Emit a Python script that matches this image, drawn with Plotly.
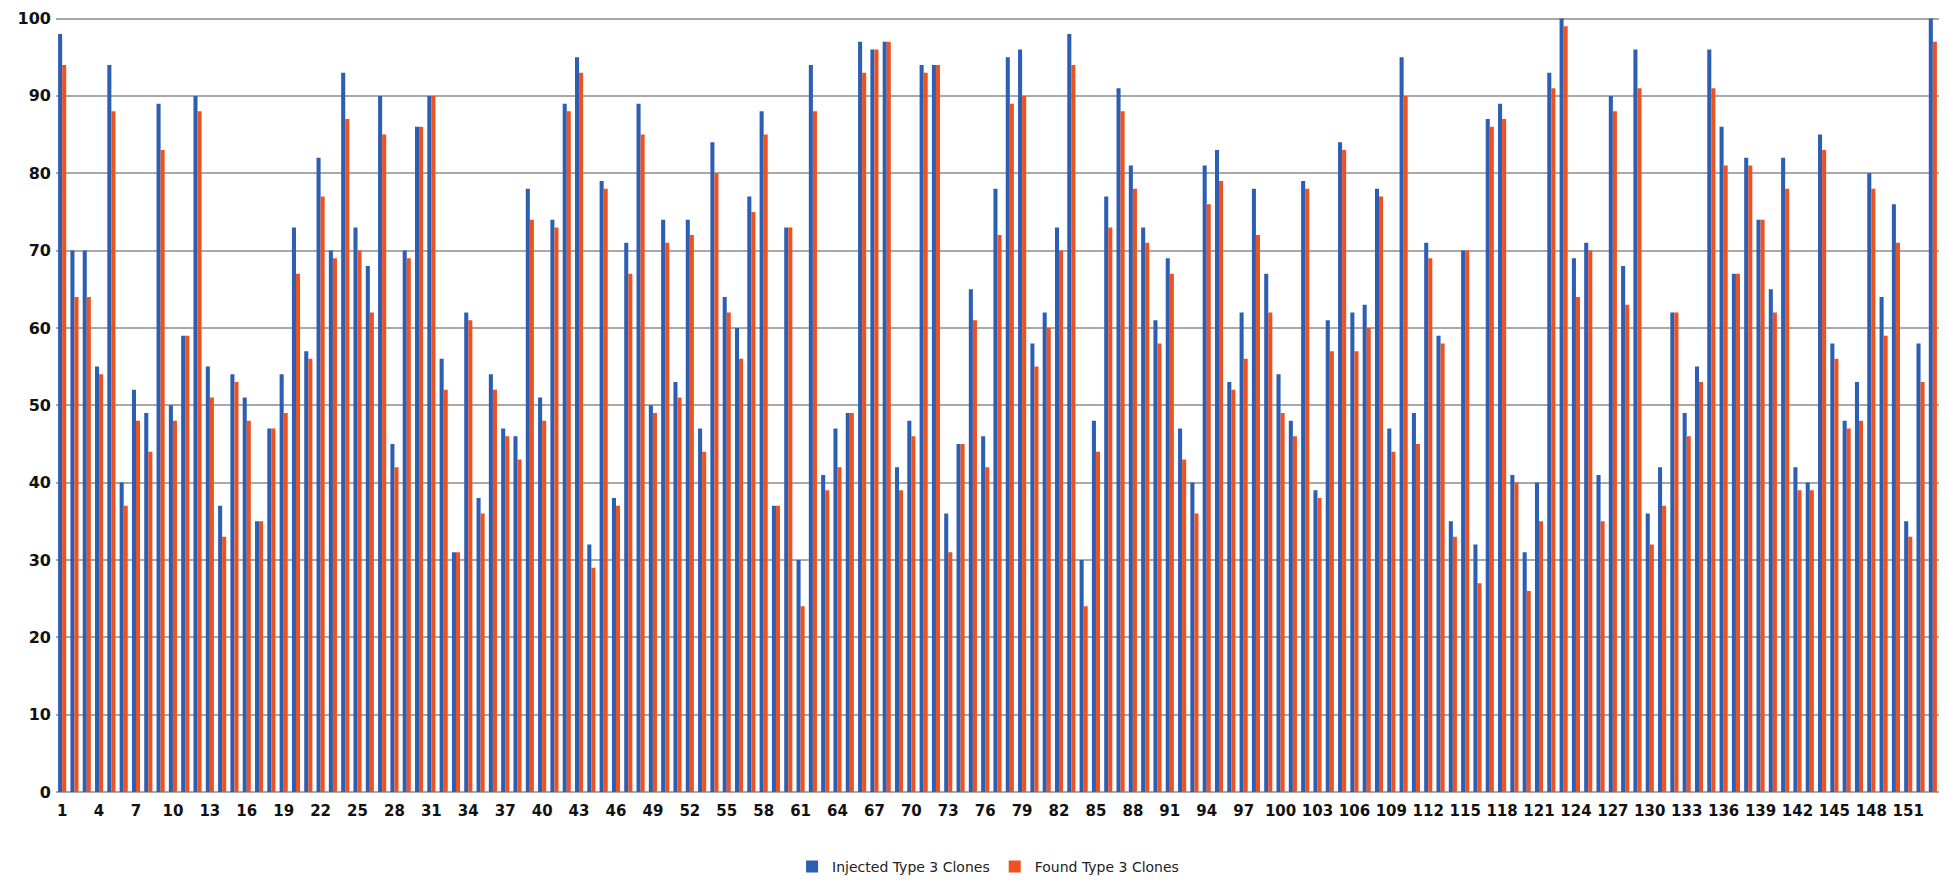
import plotly.graph_objects as go

categories = [str(i) for i in range(1, 154)]

injected = [98, 70, 70, 55, 94, 40, 52, 49, 89, 50,
            59, 90, 55, 37, 54, 51, 35, 47, 54, 73,
            57, 82, 70, 93, 73, 68, 90, 45, 70, 86,
            90, 56, 31, 62, 38, 54, 47, 46, 78, 51,
            74, 89, 95, 32, 79, 38, 71, 89, 50, 74,
            53, 74, 47, 84, 64, 60, 77, 88, 37, 73,
            30, 94, 41, 47, 49, 97, 96, 97, 42, 48,
            94, 94, 36, 45, 65, 46, 78, 95, 96, 58,
            62, 73, 98, 30, 48, 77, 91, 81, 73, 61,
            69, 47, 40, 81, 83, 53, 62, 78, 67, 54,
            48, 79, 39, 61, 84, 62, 63, 78, 47, 95,
            49, 71, 59, 35, 70, 32, 87, 89, 41, 31,
            40, 93, 100, 69, 71, 41, 90, 68, 96, 36,
            42, 62, 49, 55, 96, 86, 67, 82, 74, 65,
            82, 42, 40, 85, 58, 48, 53, 80, 64, 76,
            35, 58, 100]

found = [94, 64, 64, 54, 88, 37, 48, 44, 83, 48,
         59, 88, 51, 33, 53, 48, 35, 47, 49, 67,
         56, 77, 69, 87, 70, 62, 85, 42, 69, 86,
         90, 52, 31, 61, 36, 52, 46, 43, 74, 48,
         73, 88, 93, 29, 78, 37, 67, 85, 49, 71,
         51, 72, 44, 80, 62, 56, 75, 85, 37, 73,
         24, 88, 39, 42, 49, 93, 96, 97, 39, 46,
         93, 94, 31, 45, 61, 42, 72, 89, 90, 55,
         60, 70, 94, 24, 44, 73, 88, 78, 71, 58,
         67, 43, 36, 76, 79, 52, 56, 72, 62, 49,
         46, 78, 38, 57, 83, 57, 60, 77, 44, 90,
         45, 69, 58, 33, 70, 27, 86, 87, 40, 26,
         35, 91, 99, 64, 70, 35, 88, 63, 91, 32,
         37, 62, 46, 53, 91, 81, 67, 81, 74, 62,
         78, 39, 39, 83, 56, 47, 48, 78, 59, 71,
         33, 53, 97]

tick_labels = categories[::3]

fig = go.Figure()
fig.add_trace(go.Bar(x=categories, y=injected, name="Injected Type 3 Clones",
                     marker=dict(color="#2C5EB4", line=dict(width=0))))
fig.add_trace(go.Bar(x=categories, y=found, name="Found Type 3 Clones",
                     marker=dict(color="#EE5220", line=dict(width=0))))

fig.update_layout(
    width=1934, height=871,
    margin=dict(l=48, r=3, t=9, b=87, autoexpand=False),
    paper_bgcolor="white", plot_bgcolor="white",
    barmode="group", bargap=0.34, bargroupgap=0,
    showlegend=True,
    legend=dict(orientation="h", x=0.495, xanchor="center", y=-0.0965, yanchor="middle",
                font=dict(family="DejaVu Sans", size=14, color="#222"),
                itemwidth=30, traceorder="normal"),
    xaxis=dict(type="category", tickmode="array", tickvals=tick_labels, ticktext=tick_labels,
               tickangle=0, showgrid=False, showline=False, ticks="", automargin=False,
               ticklabelstandoff=8,
               tickfont=dict(family="DejaVu Sans", size=15, color="#111", weight="bold"),
               range=[-0.5, 152.5]),
    yaxis=dict(range=[0, 100.2], tickvals=[0, 10, 20, 30, 40, 50, 60, 70, 80, 90, 100],
               showgrid=True, gridcolor="#A8A8A8", gridwidth=2,
               zeroline=True, zerolinecolor="#A8A8A8", zerolinewidth=2, showline=False,
               ticks="", ticklabelstandoff=4, automargin=False, ticklabeloverflow="allow",
               tickfont=dict(family="DejaVu Sans", size=16, color="#111", weight="bold")),
)

fig.write_html("out.html")
